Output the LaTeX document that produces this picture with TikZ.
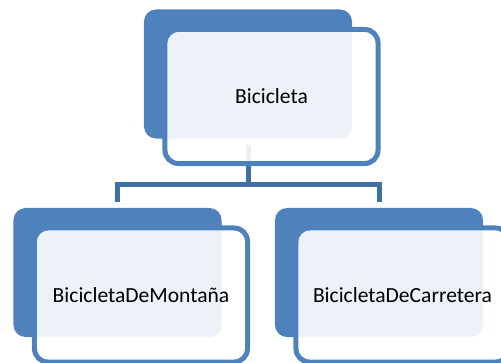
\documentclass[tikz,border=0pt]{standalone}
\usepackage{fontspec}
\setmainfont{Carlito}
\usepackage{tikz}
\usetikzlibrary{positioning,calc}
\definecolor{cardblue}{RGB}{79,129,189}
\definecolor{linkblue}{RGB}{65,112,163}

\begin{document}
\begin{tikzpicture}[
    x=0.03cm, y=-0.03cm,
    backcard/.style={rectangle, fill=cardblue, rounded corners=0.36cm, minimum width=6.24cm, minimum height=3.87cm, inner sep=0pt},
    frontcard/.style={rectangle, draw=cardblue, line width=0.15cm, fill=white, fill opacity=0.9, text opacity=1, rounded corners=0.4cm, minimum width=6.39cm, minimum height=4.02cm, align=center, font=\fontsize{18.4}{22}\selectfont},
    link/.style={draw=linkblue, line width=0.15cm, shorten <=0.18cm, shorten >=0.18cm}
]
\useasboundingbox (0,0) rectangle (501,363);
\clip (0,0) rectangle (501,363);

% Back cards
\node[backcard] (bici) at (248,74) {};
\node[backcard] (monte) at (117.5,272.5) {};
\node[backcard] (road) at (379,272.5) {};

% Connectors
\draw[link] (bici.south) -- ++(0,46) -| (monte.north);
\draw[link] (bici.south) -- ++(0,46) -| (road.north);

% Front cards with the labels
\node[frontcard] (biciF) at ($(bici.center)+(23.5,22.5)$) {Bicicleta};
\node[frontcard] (monteF) at ($(monte.center)+(23.5,22.5)$) {BicicletaDeMontaña};
\node[frontcard] (roadF) at ($(road.center)+(23.5,22.5)$) {BicicletaDeCarretera};
\end{tikzpicture}
\end{document}
